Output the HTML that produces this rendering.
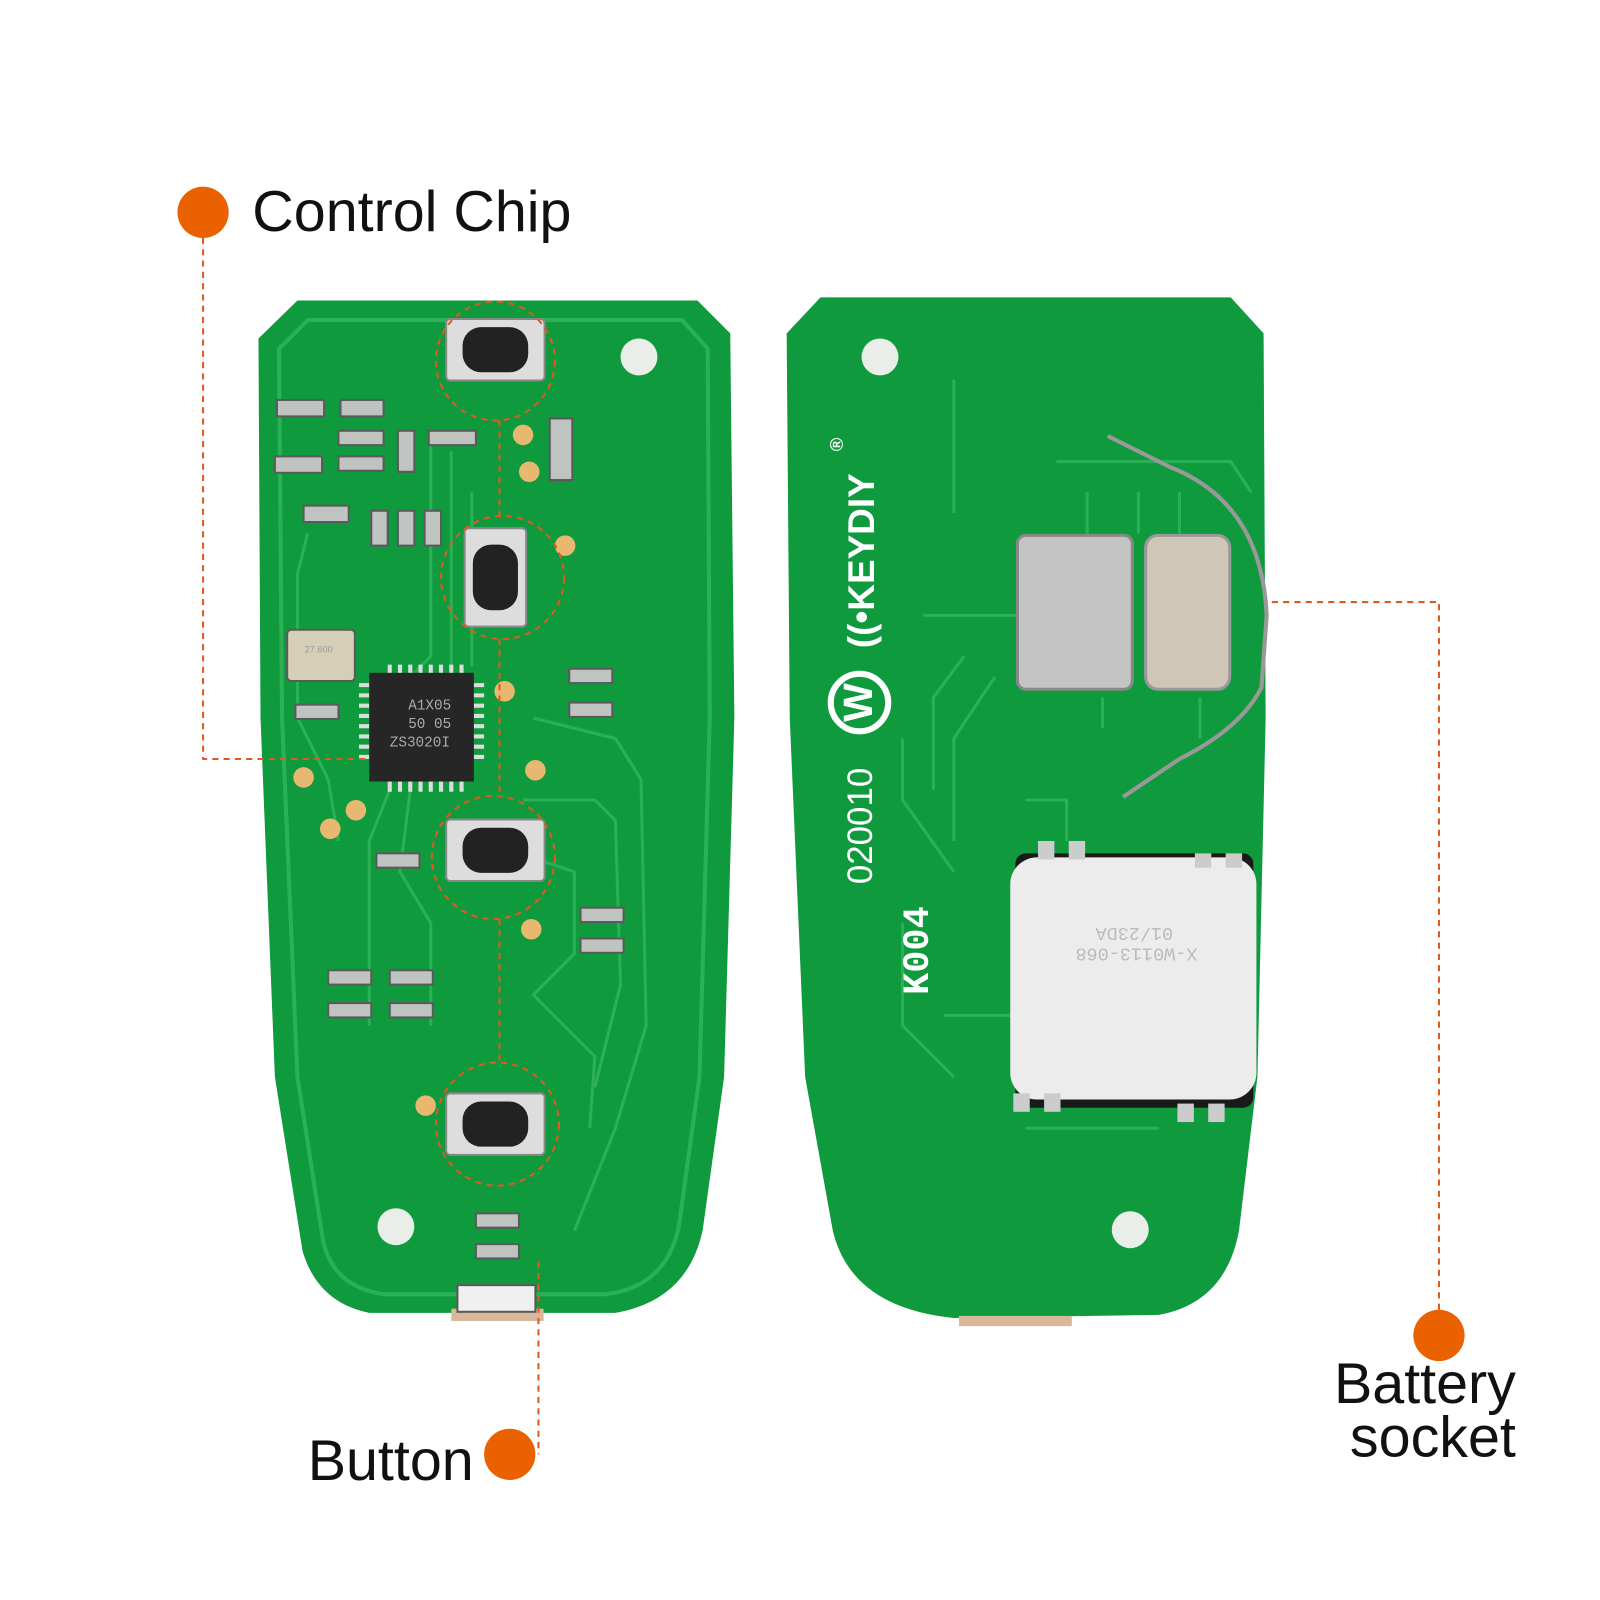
<!DOCTYPE html>
<html><head><meta charset="utf-8"><style>
html,body{margin:0;padding:0;background:#fff}
svg{display:block}
</style></head><body>
<svg width="1600" height="1600" viewBox="0 0 1560 1560" xmlns="http://www.w3.org/2000/svg">
<rect width="1560" height="1560" fill="#fff"/>
<!-- left board -->
<path d="M290,293 L680,293 L712,325 L716,700 L706,1050 L685,1200 Q670,1268 600,1280 L360,1280 Q310,1270 295,1220 L268,1050 L254,700 L252,330 Z" fill="#0f9a3e"/>
<path d="M300,312 L665,312 L690,340 L692,700 L682,1050 L662,1195 Q650,1255 590,1262 L375,1262 Q325,1255 315,1210 L290,1050 L275,700 L272,340 Z" fill="none" stroke="#2bb055" stroke-width="4"/>
<rect x="440" y="1276" width="90" height="12" fill="#d9b79a"/>
<!-- right board -->
<path d="M800,290 L1200,290 L1232,325 L1234,700 L1226,1050 L1208,1200 Q1195,1270 1130,1282 L930,1285 Q830,1275 812,1200 L785,1050 L770,700 L767,325 Z" fill="#0f9a3e"/>
<rect x="935" y="1283" width="110" height="10" fill="#d9b79a"/>
<circle cx="623" cy="348" r="18" fill="#e9eee9"/>
<circle cx="386" cy="1196" r="18" fill="#e9eee9"/>
<circle cx="858" cy="348" r="18" fill="#e9eee9"/>
<circle cx="1102" cy="1199" r="18" fill="#e9eee9"/>
<!-- traces -->
<g stroke="#2bb055" stroke-width="3" fill="none">
<path d="M420,420 L420,640 L370,690"/><path d="M440,440 L440,650"/><path d="M460,480 L460,650"/>
<path d="M300,520 L290,560 L290,700 L320,760 L330,820"/>
<path d="M520,700 L600,720 L625,760 L630,1000 L600,1100 L560,1200"/>
<path d="M510,780 L580,780 L600,800 L605,960 L580,1060"/>
<path d="M500,830 L560,850 L560,930 L520,970 L580,1030 L575,1100"/>
<path d="M380,770 L360,820 L360,1000"/><path d="M400,770 L390,850 L420,900 L420,1000"/>
<path d="M930,370 L930,500"/><path d="M1030,450 L1200,450 L1220,480"/>
<path d="M900,600 L1000,600"/><path d="M940,640 L910,680 L910,770"/>
<path d="M970,660 L930,720 L930,820"/><path d="M880,720 L880,780 L930,850"/>
<path d="M1000,780 L1040,780 L1040,820"/><path d="M920,990 L990,990"/>
<path d="M930,1050 L880,1000 L880,900"/><path d="M1000,1100 L1130,1100"/>
<path d="M1060,480 L1060,520 M1110,480 L1110,520 M1150,480 L1150,520"/>
<path d="M1075,680 L1075,710 M1170,680 L1170,720"/>
</g>
<!-- components left -->
<g fill="#bfc4c0" stroke="#5a5a5a" stroke-width="2">
<rect x="270" y="390" width="46" height="16"/><rect x="332" y="390" width="42" height="16"/>
<rect x="330" y="420" width="44" height="14"/><rect x="268" y="445" width="46" height="16"/>
<rect x="330" y="445" width="44" height="14"/><rect x="388" y="420" width="16" height="40"/>
<rect x="418" y="420" width="46" height="14"/><rect x="296" y="493" width="44" height="16"/>
<rect x="362" y="498" width="16" height="34"/><rect x="388" y="498" width="16" height="34"/>
<rect x="414" y="498" width="16" height="34"/><rect x="536" y="408" width="22" height="60"/>
<rect x="555" y="652" width="42" height="14"/><rect x="555" y="685" width="42" height="14"/>
<rect x="288" y="687" width="42" height="14"/><rect x="367" y="832" width="42" height="14"/>
<rect x="566" y="885" width="42" height="14"/><rect x="566" y="915" width="42" height="14"/>
<rect x="320" y="946" width="42" height="14"/><rect x="380" y="946" width="42" height="14"/>
<rect x="320" y="978" width="42" height="14"/><rect x="380" y="978" width="42" height="14"/>
<rect x="464" y="1183" width="42" height="14"/><rect x="464" y="1213" width="42" height="14"/>
<rect x="446" y="1253" width="76" height="26" fill="#f0f0f0"/>
<rect x="280" y="614" width="66" height="50" rx="4" fill="#d6cfb8"/>
</g>
<g fill="#e9b870">
<circle cx="510" cy="424" r="10"/><circle cx="516" cy="460" r="10"/><circle cx="551" cy="532" r="10"/>
<circle cx="492" cy="674" r="10"/><circle cx="522" cy="751" r="10"/><circle cx="296" cy="758" r="10"/>
<circle cx="347" cy="790" r="10"/><circle cx="322" cy="808" r="10"/><circle cx="518" cy="906" r="10"/>
<circle cx="415" cy="1078" r="10"/>
</g>
<!-- buttons -->
<g>
<g transform="translate(483,341)"><rect x="-48" y="-30" width="96" height="60" rx="4" fill="#ddd" stroke="#888" stroke-width="2"/><rect x="-32" y="-22" width="64" height="44" rx="18" fill="#222"/></g>
<g transform="translate(483,563) rotate(90)"><rect x="-48" y="-30" width="96" height="60" rx="4" fill="#ddd" stroke="#888" stroke-width="2"/><rect x="-32" y="-22" width="64" height="44" rx="18" fill="#222"/></g>
<g transform="translate(483,829)"><rect x="-48" y="-30" width="96" height="60" rx="4" fill="#ddd" stroke="#888" stroke-width="2"/><rect x="-32" y="-22" width="64" height="44" rx="18" fill="#222"/></g>
<g transform="translate(483,1096)"><rect x="-48" y="-30" width="96" height="60" rx="4" fill="#ddd" stroke="#888" stroke-width="2"/><rect x="-32" y="-22" width="64" height="44" rx="18" fill="#222"/></g>
</g>
<g fill="none" stroke="#e05a20" stroke-width="2" stroke-dasharray="6,5">
<circle cx="483" cy="352" r="58"/><circle cx="490" cy="563" r="60"/><circle cx="481" cy="836" r="60"/><circle cx="485" cy="1096" r="60"/>
<path d="M487,410 L487,505 M487,623 L487,775 M487,896 L487,1035"/>
</g>
<!-- chip -->
<g fill="#ccc">
<rect x="370" y="648" width="100" height="124" rx="0" fill="none"/>
</g>
<g stroke="#ddd" stroke-width="4">
<path d="M380,648 v10 M390,648 v10 M400,648 v10 M410,648 v10 M420,648 v10 M430,648 v10 M440,648 v10 M450,648 v10"/>
<path d="M380,762 v10 M390,762 v10 M400,762 v10 M410,762 v10 M420,762 v10 M430,762 v10 M440,762 v10 M450,762 v10"/>
<path d="M350,668 h10 M350,678 h10 M350,688 h10 M350,698 h10 M350,708 h10 M350,718 h10 M350,728 h10 M350,738 h10"/>
<path d="M462,668 h10 M462,678 h10 M462,688 h10 M462,698 h10 M462,708 h10 M462,718 h10 M462,728 h10 M462,738 h10"/>
</g>
<rect x="360" y="656" width="102" height="106" fill="#262626"/>
<g font-family="Liberation Mono, monospace" font-size="14" fill="#aaa">
<text x="398" y="692">A1X05</text><text x="398" y="710">50 05</text><text x="380" y="728">ZS3020I</text>
</g>
<text x="297" y="636" font-family="Liberation Sans, sans-serif" font-size="9" fill="#999">27.600</text>
<!-- right board parts -->
<rect x="992" y="522" width="112" height="150" rx="8" fill="#c4c4c4" stroke="#888" stroke-width="3"/>
<rect x="1117" y="522" width="82" height="150" rx="12" fill="#cfc6b8" stroke="#999" stroke-width="3"/>
<path d="M1080,425 Q1110,440 1140,455 Q1230,490 1235,600 L1230,670 Q1210,710 1150,740 L1095,777" fill="none" stroke="#999" stroke-width="4"/>
<rect x="990" y="832" width="232" height="248" rx="10" fill="#1a1a1a"/>
<rect x="985" y="836" width="240" height="236" rx="26" fill="#ececec"/>
<g fill="#ccc"><rect x="1012" y="820" width="16" height="18"/><rect x="1042" y="820" width="16" height="18"/><rect x="1165" y="832" width="16" height="14"/><rect x="1195" y="832" width="16" height="14"/>
<rect x="988" y="1066" width="16" height="18"/><rect x="1018" y="1066" width="16" height="18"/><rect x="1148" y="1076" width="16" height="18"/><rect x="1178" y="1076" width="16" height="18"/></g>
<text transform="translate(1106,905) rotate(180)" text-anchor="middle" font-family="Liberation Mono, monospace" font-size="18" fill="#bbb">01/23DA</text>
<text transform="translate(1108,925) rotate(180)" text-anchor="middle" font-family="Liberation Mono, monospace" font-size="18" fill="#bbb">X-W0113-068</text>
<g fill="#fff" font-family="Liberation Sans, sans-serif" font-weight="bold">
<text transform="translate(852,632) rotate(-90)" font-size="36">((•KEYDIY</text>
<text transform="translate(822,440) rotate(-90)" font-size="18">®</text>
<text transform="translate(850,862) rotate(-90)" font-size="34" font-weight="normal">020010</text>
<text transform="translate(905,970) rotate(-90)" font-size="36" font-family="Liberation Mono, monospace">K004</text>
</g>
<circle cx="838" cy="685" r="28" fill="none" stroke="#fff" stroke-width="6"/>
<text transform="translate(850,685) rotate(-90)" text-anchor="middle" font-family="Liberation Sans, sans-serif" font-weight="bold" font-size="40" fill="#fff">W</text>
<!-- annotations -->
<g stroke="#e05a20" stroke-width="2" stroke-dasharray="6,5" fill="none">
<path d="M198,210 L198,740 L360,740"/>
<path d="M525,1230 L525,1418"/>
<path d="M1240,587 L1403,587 L1403,1300"/>
</g>
<g fill="#ea6100"><circle cx="198" cy="207" r="25"/><circle cx="497" cy="1418" r="25"/><circle cx="1403" cy="1302" r="25"/></g>
<g font-family="Liberation Sans, sans-serif" font-size="56" fill="#111">
<text x="246" y="225">Control Chip</text>
<text x="300" y="1443">Button</text>
<text x="1478" y="1368" text-anchor="end">Battery</text>
<text x="1478" y="1420" text-anchor="end">socket</text>
</g>
</svg>
</body></html>
